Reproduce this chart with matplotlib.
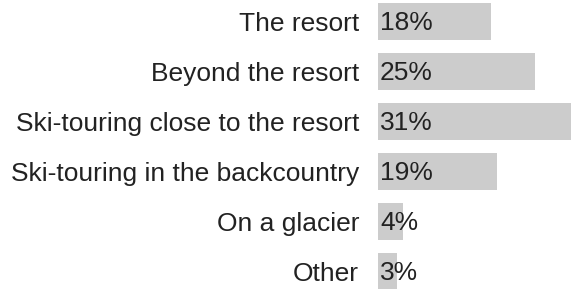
import matplotlib
matplotlib.use("Agg")
import matplotlib.pyplot as plt
from matplotlib.transforms import offset_copy

categories = ["The resort", "Beyond the resort", "Ski-touring close to the resort",
              "Ski-touring in the backcountry", "On a glacier", "Other"]
shares = [18, 25, 31, 19, 4, 3]

plt.rcParams['font.family'] = ['Liberation Sans', 'DejaVu Sans']

fig = plt.figure(figsize=(5.71, 2.89), dpi=100)
ax = fig.add_axes([378 / 571, 0, 193 / 571, 1])

ypos = list(range(len(categories)))
ax.barh(ypos, shares, height=0.74, color="#cccccc", zorder=1)

# percent labels sit inside the bars, near the left edge
lab_tr = offset_copy(ax.transData, fig=fig, x=2, y=-2, units="dots")
for y, v in zip(ypos, shares):
    ax.text(0, y, f"{v}%", transform=lab_tr, ha="left", va="center",
            fontsize=19, color="#222222", zorder=2)

ax.set_xlim(0, 30.8)
ax.set_ylim(5.36, -0.43)
ax.set_yticks(ypos)
ax.set_yticklabels(categories, fontsize=19, color="#222222")
ax.tick_params(axis="y", length=0, pad=13.5)
ax.set_xticks([])
for s in ax.spines.values():
    s.set_visible(False)

fig.savefig("out.png", dpi=100)
